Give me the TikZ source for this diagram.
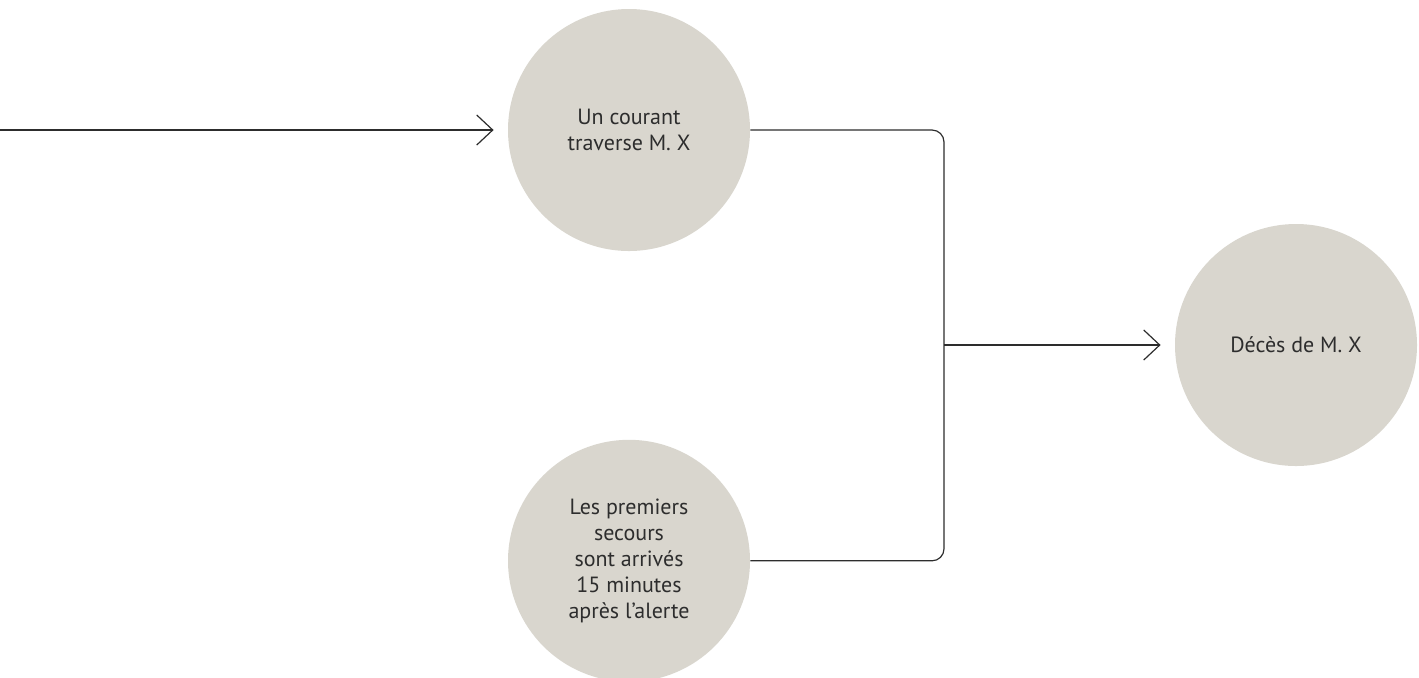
\documentclass[tikz,border=0pt]{standalone}
\usepackage{fontspec}
\setmainfont{PT Sans}
\usetikzlibrary{positioning, arrows.meta}

\definecolor{disque}{RGB}{217,214,206}
\definecolor{trait}{RGB}{45,45,45}

\begin{document}
\begin{tikzpicture}[x=0.5pt, y=-0.5pt, >={Straight Barb[length=8pt, width=15pt]}, node distance=94pt,
        etat/.style={circle, fill=disque, minimum size=121pt, inner sep=0pt, align=center,
            text=trait, font=\fontsize{11}{13}\selectfont},
        lien/.style={draw=trait, line width=0.6pt}]
        \useasboundingbox (0,0) rectangle (1419,677);

        \node (courant) [etat] at (629,130) {Un courant\\traverse M.~X};
        \node (secours) [etat, below=of courant] {Les premiers\\secours\\sont arrivés\\15 minutes\\après l’alerte};
        \node (deces) [etat] at (1296,345) {Décès de M.~X};

        \coordinate (depart) at (0,130);
        \coordinate (jonction) at (944,345);

        \draw[lien, ->] (depart) -- ([xshift=-7pt]courant.west);
        \draw[lien, rounded corners=6pt] (courant.east) -| (jonction) |- (secours.east);
        \draw[lien, ->] (jonction) -- ([xshift=-7pt]deces.west);
    \end{tikzpicture}
\end{document}
